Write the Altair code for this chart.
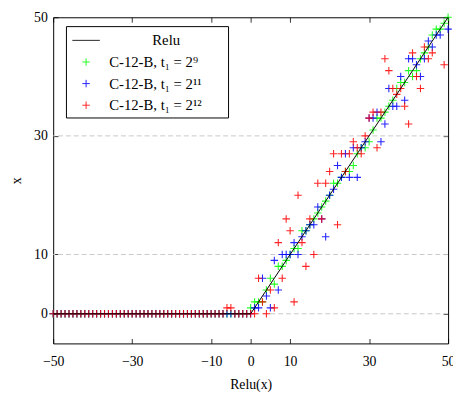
import altair as alt
import pandas as pd

# ---- data ----
BL = "\u2800"  # blank (non-whitespace) used to pad legend labels
series_names = [BL * 4 + "Relu", "C-12-B, t₁ = 2⁹" + BL * 2,
                "C-12-B, t₁ = 2¹¹" + BL * 2, "C-12-B, t₁ = 2¹²" + BL * 2]
series_colors = ["#000000", "#00ff00", "#0000ff", "#ff0000"]

relu_x = [-50, 0, 50]
relu_y = [0, 0, 50]

x_neg = list(range(-50, 0))
green_neg_y = [0] * 50
blue_neg_y = [0] * 50
red_neg_y = [0] * 44 + [1, 1] + [0, 0, 0, 0]

green_pos_x = list(range(0, 51))
green_pos_y = [1, 2, 2, 2, 4, 6, 5, 8, 8, 9, 10, 11, 11, 14, 14, 15, 16, 17, 18, 19,
               20, 22, 22, 23, 24, 24, 25, 27, 28, 28, 29, 31, 33, 33, 34, 35, 36, 38,
               39, 39, 41, 40, 41, 43, 44, 45, 47, 48, 48, 49, 50]

blue_pos_x = list(range(0, 49)) + [50]
blue_pos_y = [0, 1, 1, 6, 3, 1, 9, 4, 10, 10, 10, 12, 10, 13, 14, 15, 15, 18, 16, 13,
              20, 21, 25, 23, 27, 23, 28, 23, 28, 29, 33, 33, 34, 29, 32, 38, 35, 35,
              40, 36, 43, 43, 42, 40, 43, 46, 45, 47, 47, 48]

red_pos_x = list(range(0, 47)) + [49]
red_pos_y = [0, 0, 6, 2, 0, 4, 1, 12, 6, 16, 14, 2, 20, 12, 8, 16, 10, 22, 16, 22,
             24, 27, 15, 27, 24, 27, 29, 28, 27, 30, 33, 34, 28, 34, 43, 41, 38, 37,
             38, 35, 32, 44, 40, 38, 45, 43, 44, 42]

x_ticks = [-50, -30, -10, 0, 10, 30, 50]
y_ticks = [0, 10, 30, 50]
grid_y = [0, 10, 30]

# ---- tables ----
rows = []
for name, xs_neg, ys_neg, xs_pos, ys_pos in [
    (series_names[1], x_neg, green_neg_y, green_pos_x, green_pos_y),
    (series_names[2], x_neg, blue_neg_y, blue_pos_x, blue_pos_y),
    (series_names[3], x_neg, red_neg_y, red_pos_x, red_pos_y),
]:
    for xv, yv in zip(xs_neg + xs_pos, ys_neg + ys_pos):
        rows.append({"x": xv, "y": yv, "series": name})
pts = pd.DataFrame(rows)
relu_df = pd.DataFrame({"x": relu_x, "y": relu_y})
grid_df = pd.DataFrame({"y": grid_y})

FONT = "'Liberation Serif', 'DejaVu Serif', serif"
SYM = 400
line_path = "M-1.4,0L1.4,0"
plus_path = "M-0.38,0L0.38,0M0,-0.38L0,0.38"
series_shapes = [line_path, plus_path, plus_path, plus_path]

xs = alt.Scale(domain=[-50, 50], nice=False, zero=False)
ys = alt.Scale(domain=[-5, 50], nice=False, zero=False)

common_axis = dict(offset=-5, tickSize=5, domain=False, grid=False, tickColor="black",
                   tickWidth=0.8, labelFlush=False, labelFont=FONT, labelFontSize=14,
                   labelColor="black", titleFont=FONT, titleFontSize=14,
                   titleFontWeight="normal", titleColor="black")

bottom_axis = alt.Axis(orient="bottom", values=x_ticks, labelPadding=11, titlePadding=10,
                       title="Relu(x)", **common_axis)
left_axis = alt.Axis(orient="left", values=y_ticks, labelPadding=6, titlePadding=10,
                     title="x", **common_axis)
top_axis = alt.Axis(orient="top", values=x_ticks, labels=False, title=None, **common_axis)
right_axis = alt.Axis(orient="right", values=y_ticks, labels=False, title=None, **common_axis)

legend = alt.Legend(
    title=None, orient="none", legendX=13, legendY=9, direction="vertical",
    padding=4, strokeColor="black", fillColor="white", cornerRadius=0,
    symbolSize=SYM, symbolStrokeWidth=1, symbolOffset=6, labelFont=FONT, labelFontSize=15,
    labelColor="black", labelOffset=13, rowPadding=3,
)

grid = alt.Chart(grid_df).mark_rule(color="#c8c8c8", strokeDash=[5, 3], strokeWidth=1).encode(
    y=alt.Y("y:Q", scale=ys, axis=None)
)

points = alt.Chart(pts).mark_point(filled=False, size=SYM, strokeWidth=1.1, opacity=0.85).encode(
    x=alt.X("x:Q", scale=xs, axis=bottom_axis),
    y=alt.Y("y:Q", scale=ys, axis=left_axis),
    color=alt.Color("series:N", scale=alt.Scale(domain=series_names, range=series_colors),
                    legend=legend, sort=series_names),
    shape=alt.Shape("series:N", scale=alt.Scale(domain=series_names, range=series_shapes),
                    legend=legend, sort=series_names),
)

relu = alt.Chart(relu_df).mark_line(color="black", strokeWidth=1).encode(
    x=alt.X("x:Q", scale=xs, axis=top_axis),
    y=alt.Y("y:Q", scale=ys, axis=right_axis),
)

chart = (
    alt.layer(grid, points, relu)
    .resolve_axis(x="independent", y="independent")
    .properties(width=402, height=332, autosize=alt.AutoSizeParams(type="none"),
                padding={"left": 46, "top": 6, "right": 5, "bottom": 46})
    .configure_view(stroke="black", strokeWidth=1)
)

chart.save("out.html", embed_options={"renderer": "svg", "actions": False})
